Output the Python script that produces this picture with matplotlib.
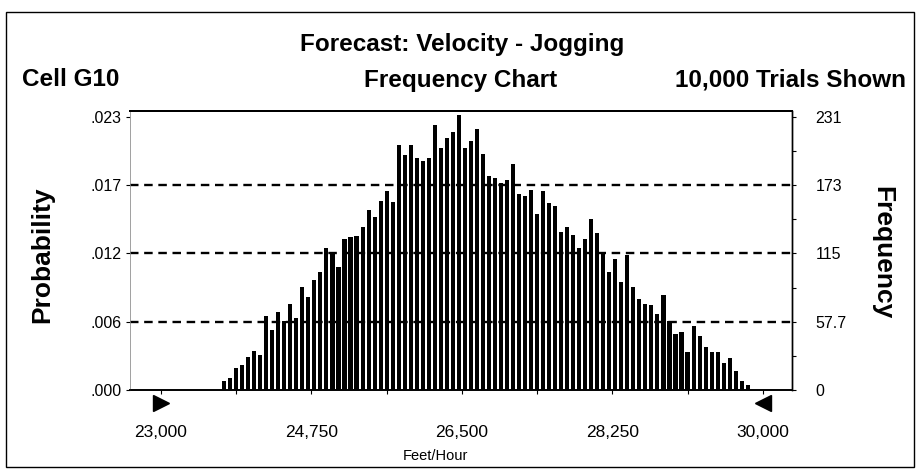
import numpy as np
import matplotlib
matplotlib.use("Agg")
import matplotlib.pyplot as plt
import matplotlib.transforms as mtransforms
from matplotlib.patches import Rectangle

plt.rcParams['font.family'] = ['Liberation Sans', 'DejaVu Sans']

# ----- DATA -----

# Frequency counts per bin (10,000 trials), bins of 70 ft/h starting at 23,700
counts = [8, 10, 19, 21, 28, 33, 30, 63, 51, 66,
          58, 73, 61, 87, 79, 93, 100, 120, 116, 104,
          128, 129, 130, 138, 152, 146, 160, 168, 159, 207,
          199, 207, 196, 194, 196, 224, 205, 213, 218, 233,
          205, 211, 221, 200, 181, 179, 175, 178, 191, 166,
          164, 169, 149, 168, 158, 156, 134, 138, 131, 120,
          128, 145, 133, 116, 100, 111, 91, 114, 87, 77,
          73, 72, 64, 80, 58, 47, 49, 32, 54, 46,
          36, 32, 32, 23, 27, 16, 8, 4]
bin_start = 23700
bin_width = 70

x_ticks = [23000, 24750, 26500, 28250, 30000]
x_tick_labels = ["23,000", "24,750", "26,500", "28,250", "30,000"]
range_ends = [23000, 30000]

freq_ticks = [0, 57.7, 115.5, 173.2, 231]
freq_labels = ["0", "57.7", "115", "173", "231"]
prob_labels = [".000", ".006", ".012", ".017", ".023"]

# ----- PLOT -----

fig = plt.figure(figsize=(9.2, 4.72), dpi=100)
ax = fig.add_axes([130 / 920, 1 - 390 / 472, 662 / 920, 279 / 472])

centers = bin_start + bin_width * (np.arange(len(counts)) + 0.5)
ax.bar(centers, counts, width=bin_width * 0.68, color="black", zorder=2)

# dashed grid drawn over the bars
for f in freq_ticks[1:-1]:
    ax.axhline(f, color="black", linestyle=(0, (3.6, 2.4)), linewidth=1.7, zorder=3)

ax.set_xlim(22640, 30340)
ax.set_ylim(0, 236)

ax.set_xticks(x_ticks)
ax.set_xticklabels(x_tick_labels, fontsize=12.5)
ax.set_xticks(np.arange(x_ticks[0], x_ticks[-1] + 1, 875), minor=True)
ax.tick_params(axis="x", which="both", length=3, pad=22, width=0.8)

ax.set_yticks(freq_ticks)
ax.set_yticklabels(prob_labels, fontsize=11.5)
ax.tick_params(axis="y", length=3, pad=3, width=0.8)

ax2 = ax.twinx()
ax2.set_ylim(ax.get_ylim())
ax2.set_yticks(freq_ticks)
ax2.set_yticklabels(freq_labels, fontsize=11.5)
ax2.set_yticks([f + 28.9 for f in freq_ticks[:-1]], minor=True)
ax2.tick_params(axis="y", which="both", length=3, pad=14, width=0.8)

for a in (ax, ax2):
    a.spines["left"].set_linewidth(0.5)
    a.spines["left"].set_color("#999999")
    a.spines["right"].set_linewidth(1.0)
    a.spines["top"].set_linewidth(1.4)
    a.spines["bottom"].set_linewidth(1.2)

# range markers below the axis
trans = mtransforms.blended_transform_factory(ax.transData, ax.transAxes)
ax.plot(range_ends[0], -0.045, marker=">", markersize=11, color="black",
        transform=trans, clip_on=False)
ax.plot(range_ends[1], -0.045, marker="<", markersize=11, color="black",
        transform=trans, clip_on=False)

# header texts
fig.text(462 / 920, 1 - 44 / 472, "Forecast: Velocity - Jogging",
         ha="center", va="center", fontsize=17.5, fontweight="bold")
fig.text(22 / 920, 1 - 80 / 472, "Cell G10",
         ha="left", va="center", fontsize=17.5, fontweight="bold")
fig.text(461 / 920, 1 - 80 / 472, "Frequency Chart",
         ha="center", va="center", fontsize=17.5, fontweight="bold")
fig.text(906 / 920, 1 - 80 / 472, "10,000 Trials Shown",
         ha="right", va="center", fontsize=17.5, fontweight="bold")

fig.text(42 / 920, 1 - 255 / 472, "Probability", rotation=90,
         ha="center", va="center", fontsize=19, fontweight="bold")
fig.text(882 / 920, 1 - 253 / 472, "Frequency", rotation=-90,
         ha="center", va="center", fontsize=19, fontweight="bold")
fig.text(435 / 920, 1 - 456 / 472, "Feet/Hour",
         ha="center", va="center", fontsize=10.5)

# outer frame
fig.patches.append(Rectangle((6 / 920, 1 - 467 / 472), 908 / 920, 455 / 472,
                             transform=fig.transFigure, fill=False,
                             edgecolor="black", linewidth=1.0))

fig.savefig("out.png", dpi=100)
